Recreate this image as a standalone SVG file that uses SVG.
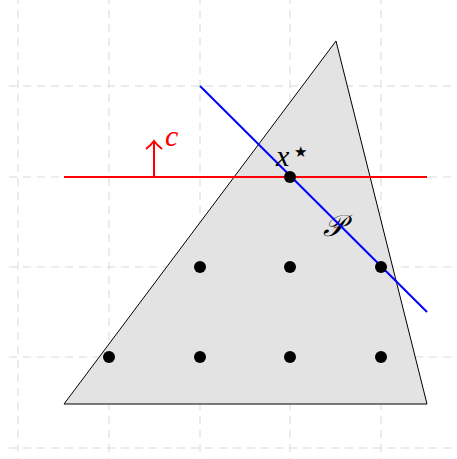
<svg xmlns="http://www.w3.org/2000/svg" width="457" height="459" viewBox="0 0 457 459">
<style>
.grid{stroke:#d9d9d9;stroke-width:1;stroke-dasharray:8 6;fill:none}
.pt{fill:#000}
.lbl{font-family:"Liberation Serif","DejaVu Serif",serif;font-style:italic}
</style>
<rect width="457" height="459" fill="#fff"/>
<g id="grid">
<path class="grid" d="M18 -4V459M109 -4V459M200 -4V459M290 -4V459M381 -4V459"/>
<path class="grid" d="M9 86H457M9 177H457M9 267H457M9 357H457M9 448H457"/>
</g>
<g id="polytope">
<polygon points="64,404 336,41 427,404" fill="#e3e3e3" stroke="#000" stroke-width="1"/>
<text class="lbl" x="334" y="236" font-size="30" text-anchor="middle" fill="#000">𝒫</text>
</g>
<g id="connectors">
<line x1="64" y1="177" x2="427" y2="177" stroke="#f00" stroke-width="2"/>
<line x1="154" y1="177" x2="154" y2="142" stroke="#f00" stroke-width="2"/>
<path d="M146 149 Q151 145 154 141 Q157 145 162 149" fill="none" stroke="#f00" stroke-width="2"/>
<line x1="200" y1="86" x2="427" y2="312" stroke="#00f" stroke-width="2"/>
</g>
<g id="labels">
<text class="lbl" x="165" y="146" font-size="30" fill="#f00">c</text>
<text class="lbl" x="276" y="166" font-size="30" fill="#000">x</text>
<text x="294" y="157" font-size="15" font-family="DejaVu Sans,sans-serif" fill="#000">★</text>
</g>
<g id="points">
<circle class="pt" cx="290" cy="177" r="6"/>
<circle class="pt" cx="200" cy="267" r="6"/>
<circle class="pt" cx="290" cy="267" r="6"/>
<circle class="pt" cx="381" cy="267" r="6"/>
<circle class="pt" cx="109" cy="357" r="6"/>
<circle class="pt" cx="200" cy="357" r="6"/>
<circle class="pt" cx="290" cy="357" r="6"/>
<circle class="pt" cx="381" cy="357" r="6"/>
</g>
</svg>
